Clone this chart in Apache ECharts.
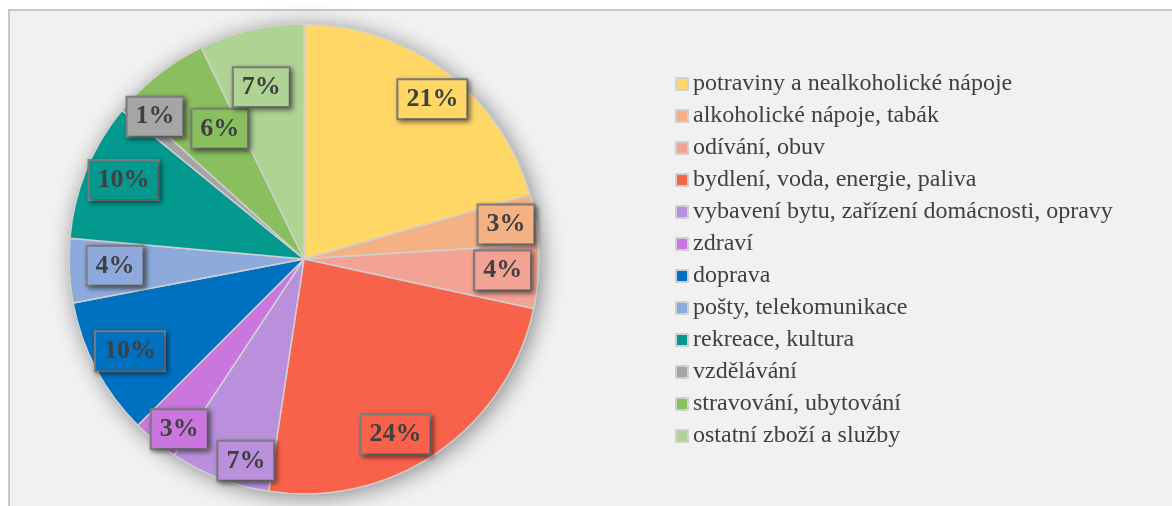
<!DOCTYPE html>
<html>
<head>
<meta charset="utf-8">
<script src="https://cdn.jsdelivr.net/npm/echarts@6/dist/echarts.min.js"></script>
<style>
  html, body { margin: 0; padding: 0; background: #fff; }
  #frame { position: absolute; left: 8px; top: 9px; width: 1200px; height: 600px;
           background: #f1f1f1; border: 2px solid #c8c8c8; }
  #main { position: absolute; left: 0; top: 0; width: 1172px; height: 506px; }
</style>
</head>
<body>
<div id="frame"></div>
<div id="main"></div>
<script>
// kategorie výdajů
let names = [
  'potraviny a nealkoholické nápoje',
  'alkoholické nápoje, tabák',
  'odívání, obuv',
  'bydlení, voda, energie, paliva',
  'vybavení bytu, zařízení domácnosti, opravy',
  'zdraví',
  'doprava',
  'pošty, telekomunikace',
  'rekreace, kultura',
  'vzdělávání',
  'stravování, ubytování',
  'ostatní zboží a služby'
];
// podíl v %
let values = [20.6, 3.4, 4.4, 24.0, 6.9, 3.2, 9.5, 4.4, 9.5, 0.8, 6.1, 7.2];

let colors = ['#fed766', '#f4b183', '#f3a394', '#f9624a', '#ba8fdc', '#c977df',
  '#0070c0', '#8eaadc', '#03998f', '#a5a5a5', '#8abf60', '#aed393'];

// umístění popisků: vzdálenost od středu (px) a pootočení (stupně)
let labelR = [205, 205, 199, 198, 210, 211, 197, 189, 197, 206, 155, 177];
let labelTurn = [1.7, 0, -1, 7, -5, -3, 0, 0.8, 1.5, 3, 4, -1];

let cx = 304, cy = 259, R = 235;

let myChart = echarts.init(document.getElementById('main'));

let pieData = names.map(function (n, i) {
  return {
    name: n,
    value: values[i],
    itemStyle: { color: colors[i] },
    label: { backgroundColor: colors[i] }
  };
});

let total = values.reduce(function (a, b) { return a + b; }, 0);

let option = {
  animation: false,
  legend: {
    orient: 'vertical',
    left: 675,
    top: 72,
    padding: 0,
    itemWidth: 12,
    itemHeight: 12,
    itemGap: 8,
    icon: 'rect',
    data: names,
    textStyle: {
      fontFamily: 'Liberation Serif',
      fontSize: 24,
      lineHeight: 24,
      color: '#404040'
    }
  },
  series: [{
    // stín pod koláčem
    type: 'pie',
    silent: true,
    z: 1,
    center: [cx, cy],
    radius: [0, R],
    label: { show: false },
    labelLine: { show: false },
    itemStyle: {
      color: '#d8d8d8',
      shadowBlur: 22,
      shadowColor: 'rgba(0,0,0,0.45)',
      shadowOffsetX: 3,
      shadowOffsetY: 3
    },
    data: [{ value: total, name: '_shadow' }]
  }, {
    name: 'výdaje',
    type: 'pie',
    z: 2,
    center: [cx, cy],
    radius: [0, R],
    startAngle: 90,
    clockwise: true,
    avoidLabelOverlap: false,
    itemStyle: {
      borderColor: '#d0d0d0',
      borderWidth: 1.5
    },
    label: {
      show: true,
      position: 'inside',
      fontFamily: 'Liberation Serif',
      fontWeight: 'bold',
      fontSize: 26,
      lineHeight: 26,
      color: '#404040',
      borderColor: '#7f7f7f',
      borderWidth: 2,
      padding: [6, 8],
      shadowBlur: 5,
      shadowColor: 'rgba(0,0,0,0.45)',
      shadowOffsetX: 2,
      shadowOffsetY: 2,
      formatter: function (p) {
        return Math.round(p.value) + '%';
      }
    },
    labelLayout: function (p) {
      let r = p.labelRect;
      let lx = r.x + r.width / 2;
      let ly = r.y + r.height / 2;
      let a = Math.atan2(lx - cx, cy - ly) + labelTurn[p.dataIndex] * Math.PI / 180;
      let d = labelR[p.dataIndex];
      let x = cx + d * Math.sin(a);
      let y = cy - d * Math.cos(a);
      return { dx: x - lx, dy: y - ly };
    },
    emphasis: { scale: false },
    data: pieData
  }]
};

myChart.setOption(option);
</script>
</body>
</html>
